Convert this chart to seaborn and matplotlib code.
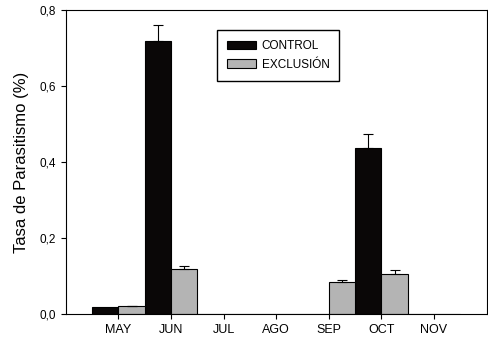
import matplotlib
matplotlib.use('Agg')
import matplotlib.pyplot as plt
import matplotlib.ticker as mticker
import seaborn as sns
import pandas as pd

meses = ['MAY', 'JUN', 'JUL', 'AGO', 'SEP', 'OCT', 'NOV']
control = [0.018, 0.718, 0.0, 0.0, 0.0, 0.437, 0.0]
control_err = [0.0, 0.044, 0.0, 0.0, 0.0, 0.036, 0.0]
exclusion = [0.020, 0.119, 0.0, 0.0, 0.083, 0.104, 0.0]
exclusion_err = [0.002, 0.008, 0.0, 0.0, 0.007, 0.012, 0.0]
grupos = ['CONTROL', 'EXCLUSIÓN']

df = pd.DataFrame({
    'mes': meses * 2,
    'tasa': control + exclusion,
    'grupo': [grupos[0]] * len(meses) + [grupos[1]] * len(meses),
})

sns.set_style('ticks')
plt.rcParams['font.family'] = ['Liberation Sans', 'DejaVu Sans']
plt.rcParams['text.color'] = 'black'
plt.rcParams['axes.labelcolor'] = 'black'
plt.rcParams['xtick.color'] = 'black'
plt.rcParams['ytick.color'] = 'black'

fig = plt.figure(figsize=(4.88, 3.38), dpi=100)
ax = fig.add_axes([0.135, 0.071, 0.862, 0.899])

sns.barplot(data=df, x='mes', y='tasa', hue='grupo', order=meses, hue_order=grupos,
            palette=['#0a0707', '#b4b4b4'], width=1.0, edgecolor='black', linewidth=0.8,
            errorbar=None, ax=ax)

# barras de error solo hacia arriba
for cont, errs in zip(ax.containers, [control_err, exclusion_err]):
    for bar, e in zip(cont, errs):
        if e > 0:
            xc = bar.get_x() + bar.get_width() / 2
            ax.errorbar(xc, bar.get_height(), yerr=[[0], [e]], fmt='none',
                        ecolor='black', elinewidth=0.8, capsize=3.5, capthick=0.8)

ax.set_xlim(-1, 7)
ax.set_ylim(0, 0.8)
ax.set_yticks([0, 0.2, 0.4, 0.6, 0.8])
ax.yaxis.set_major_formatter(mticker.FuncFormatter(lambda v, p: f'{v:.1f}'.replace('.', ',')))
ax.set_xlabel('')
ax.set_ylabel('Tasa de Parasitismo (%)', fontsize=12, labelpad=8)
ax.tick_params(axis='x', labelsize=9)
ax.tick_params(axis='y', labelsize=8.5)
ax.tick_params(axis='both', direction='out', length=3.5, width=0.8, color='black')
for s in ax.spines.values():
    s.set_visible(True)
    s.set_color('black')
    s.set_linewidth(0.8)

ax.legend(loc='upper left', bbox_to_anchor=(0.36, 0.934), borderaxespad=0, fontsize=8.5,
          frameon=True, fancybox=False, edgecolor='black', framealpha=1,
          handlelength=2.4, borderpad=0.85, labelspacing=0.55, handletextpad=0.5, title=None)

fig.savefig('out.png', dpi=100)
